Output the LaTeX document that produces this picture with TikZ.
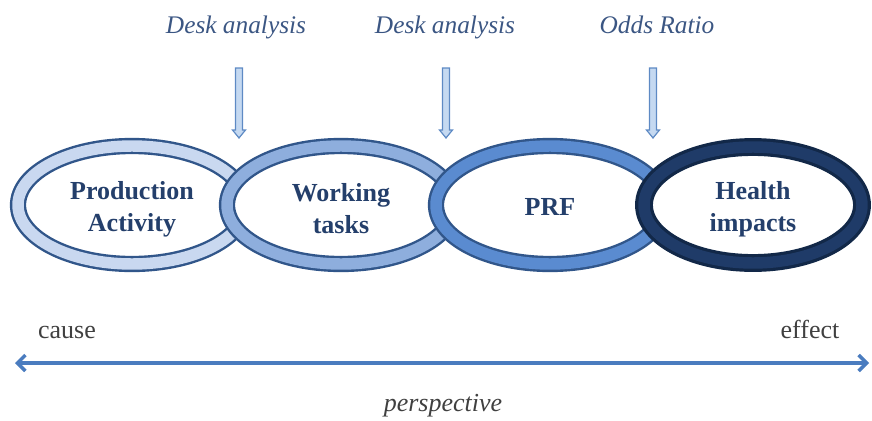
\documentclass[tikz,border=0pt]{standalone}
\usepackage{fontspec}
\setmainfont{Liberation Serif}
\usetikzlibrary{shapes.geometric,arrows.meta}
\definecolor{bandA}{HTML}{C9D8F0}
\definecolor{bandB}{HTML}{8EAEDD}
\definecolor{bandC}{HTML}{5A8BD0}
\definecolor{bandD}{HTML}{1F3B68}
\definecolor{lineA}{HTML}{31568A}
\definecolor{lineD}{HTML}{122848}
\definecolor{navy}{HTML}{243F6B}
\definecolor{toplbl}{HTML}{3B5683}
\definecolor{greytxt}{HTML}{404040}
\definecolor{axis}{HTML}{4A7CBF}
\definecolor{arrfill}{HTML}{C5D9F1}
\definecolor{arrline}{HTML}{5E8AC4}
\tikzset{
  ring/.style={ellipse, inner sep=0pt, fill=white, draw=lineA, line width=1.8pt,
    double distance=8.6pt, minimum width=171pt, minimum height=88.5pt},
  ringtext/.style={align=center, inner sep=0pt, text=navy, font=\fontsize{19.5}{24}\selectfont\bfseries},
  toplabel/.style={anchor=base, text=toplbl, font=\fontsize{19}{22}\selectfont\itshape},
  axlabel/.style={anchor=base, text=greytxt, font=\fontsize{19.5}{22}\selectfont},
  downarr/.style={fill=arrfill, draw=arrline, line width=0.9pt, line join=miter},
}
\begin{document}
\begin{tikzpicture}[x=0.75pt,y=-0.75pt]
\useasboundingbox (0,0) rectangle (872,421);
% top labels
\node[toplabel] (l1) at (236,33) {Desk analysis};
\node[toplabel] (l2) at (445,33) {Desk analysis};
\node[toplabel] (l3) at (657,33) {Odds Ratio};
% rings
\node[ring, double=bandA] (r1) at (132,205) {};
\node[ring, double=bandB] (r2) at (341,205) {};
\node[ring, double=bandC] (r3) at (550,205) {};
\node[ring, double=bandD, draw=lineD, line width=2.4pt, minimum width=163.5pt, minimum height=87pt] (r4) at (753,205) {};
\node[ringtext] (t1) at ([yshift=-3pt]r1.center) {Production\\Activity};
\node[ringtext] (t2) at ([yshift=-3pt]r2.center) {Working\\tasks};
\node[ringtext] (t3) at ([yshift=-1.5pt]r3.center) {PRF};
\node[ringtext] (t4) at ([yshift=-3pt]r4.center) {Health\\impacts};
% down arrows
\foreach \x/\n in {239/a1,446/a2,653/a3}{
  \coordinate (\n) at (\x,138);
  \draw[downarr] (\n) -- ++(-6.5,-8) -- ++(3,0) -- ++(0,-62) -- ++(7,0) -- ++(0,62) -- ++(3,0) -- cycle;
}
% axis
\coordinate (axL) at (15,363);
\coordinate (axR) at (869,363);
\draw[axis, line width=2.6pt, {Straight Barb[length=6pt,width=12pt]}-{Straight Barb[length=6pt,width=12pt]}] (axL) -- (axR);
\node[axlabel] (cause) at (67,338) {cause};
\node[axlabel] (effect) at (810,338) {effect};
\node[axlabel, font=\fontsize{19.5}{22}\selectfont\itshape] (persp) at (443,411) {perspective};
\end{tikzpicture}
\end{document}
